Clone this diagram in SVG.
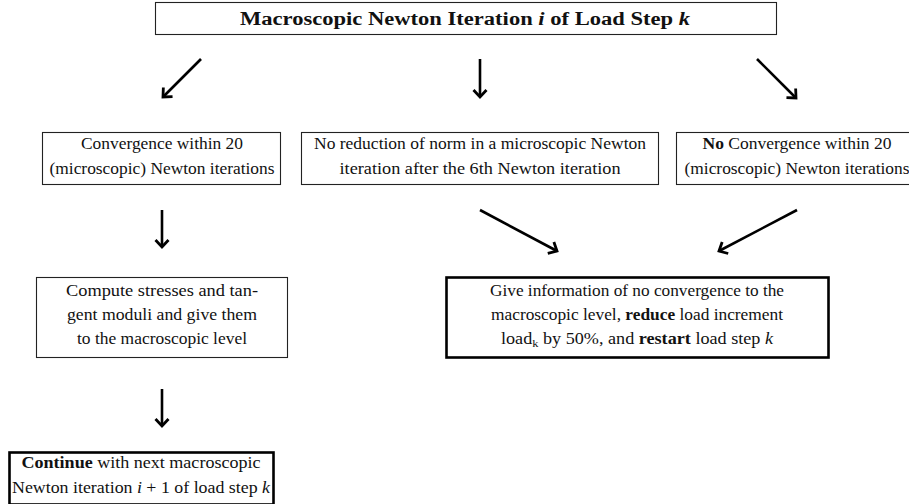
<svg xmlns="http://www.w3.org/2000/svg" width="909" height="504" viewBox="0 0 909 504">
  <style>
    .box { fill: #fff; stroke: #222; stroke-width: 1.1; }
    .box-strong { fill: #fff; stroke: #000; stroke-width: 2.6; }
    .t { font-family: "Liberation Serif", "Times New Roman", serif; font-size: 16px; fill: #111; text-anchor: middle; }
    .title { font-size: 18.5px; font-weight: bold; }
    .b { font-weight: bold; }
    .m { font-style: italic; }
    .arrow { stroke: #000; stroke-width: 2.6; fill: none; marker-end: url(#head); }
  </style>
  <defs>
    <marker id="head" viewBox="-12 -10 16 20" markerWidth="16" markerHeight="20" refX="0" refY="0" orient="auto" markerUnits="userSpaceOnUse">
      <path d="M-7,-6.5 L0,0 L-7,6.5" fill="none" stroke="#000" stroke-width="2.8" stroke-linejoin="miter" stroke-linecap="butt"/>
    </marker>
  </defs>
  <rect width="909" height="504" fill="#fff"/>

  <!-- top: the macroscopic iteration -->
  <g id="macro-iteration">
    <rect class="box" x="155.5" y="2.5" width="621" height="32"/>
    <text class="t title" x="465" y="25" textLength="450" lengthAdjust="spacingAndGlyphs">Macroscopic Newton Iteration <tspan class="m">i</tspan> of Load Step <tspan class="m">k</tspan></text>
  </g>

  <!-- three possible outcomes of the microscopic solve -->
  <g id="converged">
    <rect class="box" x="42.5" y="132.5" width="238" height="52"/>
    <text class="t" x="162" y="149" textLength="162" lengthAdjust="spacingAndGlyphs">Convergence within 20</text>
    <text class="t" x="162" y="174" textLength="225" lengthAdjust="spacingAndGlyphs">(microscopic) Newton iterations</text>
  </g>

  <g id="no-reduction">
    <rect class="box" x="301.5" y="132.5" width="357" height="52"/>
    <text class="t" x="480" y="149" textLength="332" lengthAdjust="spacingAndGlyphs">No reduction of norm in a microscopic Newton</text>
    <text class="t" x="480" y="174" textLength="281" lengthAdjust="spacingAndGlyphs">iteration after the 6th Newton iteration</text>
  </g>

  <g id="not-converged">
    <rect class="box" x="676.5" y="132.5" width="245" height="52"/>
    <text class="t" x="797" y="149" textLength="189" lengthAdjust="spacingAndGlyphs"><tspan class="b">No</tspan> Convergence within 20</text>
    <text class="t" x="797" y="174" textLength="225" lengthAdjust="spacingAndGlyphs">(microscopic) Newton iterations</text>
  </g>

  <!-- follow-up actions -->
  <g id="compute-stresses">
    <rect class="box" x="36.5" y="277.5" width="251" height="80"/>
    <text class="t" x="162" y="296" textLength="192" lengthAdjust="spacingAndGlyphs">Compute stresses and tan-</text>
    <text class="t" x="162" y="320" textLength="190" lengthAdjust="spacingAndGlyphs">gent moduli and give them</text>
    <text class="t" x="162" y="344" textLength="170" lengthAdjust="spacingAndGlyphs">to the macroscopic level</text>
  </g>

  <g id="restart-step">
    <rect class="box-strong" x="446.5" y="277.5" width="382" height="80"/>
    <text class="t" x="637" y="296" textLength="294" lengthAdjust="spacingAndGlyphs">Give information of no convergence to the</text>
    <text class="t" x="637" y="320" textLength="292" lengthAdjust="spacingAndGlyphs">macroscopic level, <tspan class="b">reduce</tspan> load increment</text>
    <text class="t" x="637" y="344" textLength="272" lengthAdjust="spacingAndGlyphs">load<tspan font-size="11" dy="3">k</tspan><tspan dy="-3"> by 50%, and </tspan><tspan class="b">restart</tspan> load step <tspan class="m">k</tspan></text>
  </g>

  <g id="next-iteration">
    <rect class="box-strong" x="9.5" y="452.5" width="264" height="52"/>
    <text class="t" x="141" y="468" textLength="239" lengthAdjust="spacingAndGlyphs"><tspan class="b">Continue</tspan> with next macroscopic</text>
    <text class="t" x="141" y="493" textLength="258" lengthAdjust="spacingAndGlyphs">Newton iteration <tspan class="m">i</tspan> + 1 of load step <tspan class="m">k</tspan></text>
  </g>

  <!-- connectors -->
  <g id="connectors">
    <line class="arrow" x1="201" y1="59" x2="163" y2="97"/>
    <line class="arrow" x1="480" y1="59" x2="480" y2="97"/>
    <line class="arrow" x1="757" y1="59" x2="796" y2="98"/>
    <line class="arrow" x1="162" y1="210" x2="162" y2="247"/>
    <line class="arrow" x1="480" y1="210" x2="557" y2="251"/>
    <line class="arrow" x1="797" y1="210" x2="719" y2="251"/>
    <line class="arrow" x1="162" y1="389" x2="162" y2="426"/>
  </g>
</svg>
